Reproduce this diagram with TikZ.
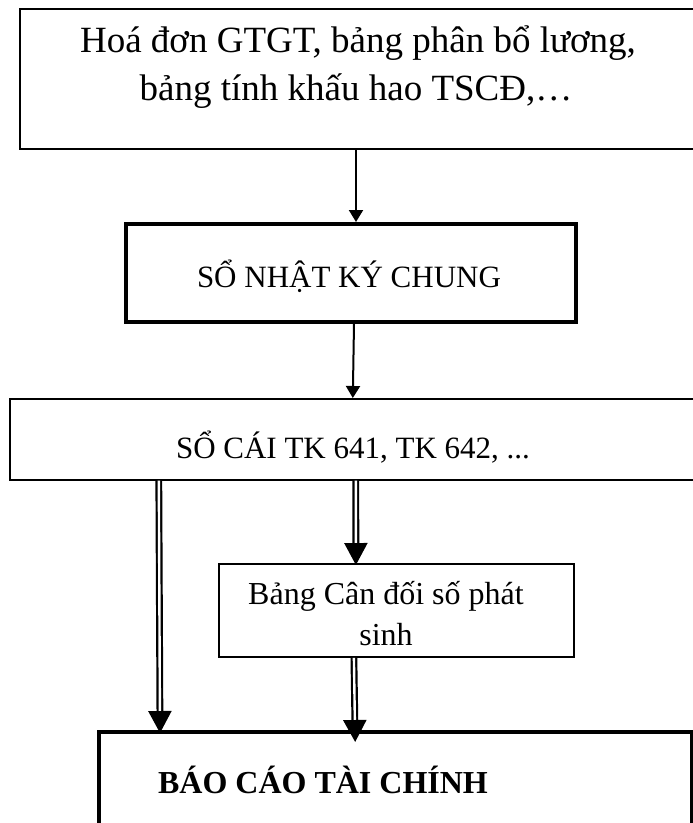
\documentclass[tikz,border=0pt]{standalone}
\usepackage{fontspec}
\setmainfont{Liberation Serif}
\usetikzlibrary{arrows.meta}
\begin{document}
\begin{tikzpicture}[x=1pt,y=-1pt,
  box/.style={draw, rectangle, inner sep=0pt, anchor=north west},
  txt/.style={inner sep=0pt, anchor=base, font=\fontsize{31}{36}\selectfont},
  arr/.style={line width=2pt, -{Triangle[length=12pt,width=14pt]}},
  dbl/.style={double, double distance=2.4pt, line width=2.2pt,
    -{Triangle[length=22pt,width=23pt]}}]
\useasboundingbox (0,0) rectangle (693,823);

% boxes
\node[box, line width=2pt, minimum width=678pt, minimum height=140pt] (src) at (19,8) {};
\node[box, line width=4pt, minimum width=450pt, minimum height=98pt] (njc) at (124,222) {};
\node[box, line width=1.6pt, minimum width=686pt, minimum height=81pt] (socai) at (9,398) {};
\node[box, line width=1.8pt, minimum width=355pt, minimum height=93pt] (cdps) at (218,563) {};
\node[box, line width=4pt, minimum width=593pt, minimum height=110pt] (bctc) at (97,730) {};

% texts
\node[txt, font=\fontsize{37}{44}\selectfont] (src1) at (358,52) {Hoá đơn GTGT, bảng phân bổ lương,};
\node[txt, font=\fontsize{37}{44}\selectfont] (src2) at (356,100) {bảng tính khấu hao TSCĐ,…};
\node[txt] (njct) at (349,287) {SỔ NHẬT KÝ CHUNG};
\node[txt] (socait) at (353,458) {SỔ CÁI TK 641, TK 642, ...};
\node[txt, font=\fontsize{32}{36}\selectfont] (cdps1) at (386,604) {Bảng Cân đối số phát};
\node[txt, font=\fontsize{32}{36}\selectfont] (cdps2) at (386,645) {sinh};
\node[txt, font=\fontsize{32}{36}\selectfont\bfseries] (bctct) at (323,793) {BÁO CÁO TÀI CHÍNH};

% single arrows
\draw[arr] ([xshift=-3pt]src.south) -- ([xshift=5pt]njc.north);
\draw[arr] ([xshift=3pt]njc.south) -- (socai.north);

% double arrows
\draw[dbl, shorten >=-3pt] ([xshift=-194pt]socai.south) -- ([xshift=-235.5pt]bctc.north);
\draw[dbl, shorten >=-2pt] ([xshift=3pt]socai.south) -- ([xshift=-40.5pt]cdps.north);
\draw[dbl, shorten >=-12pt] ([xshift=-42.5pt]cdps.south) -- ([xshift=-40.5pt]bctc.north);
\end{tikzpicture}
\end{document}
